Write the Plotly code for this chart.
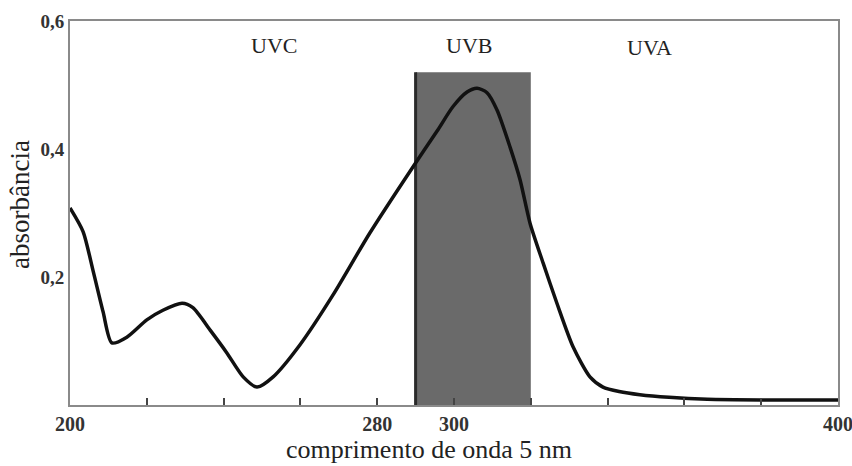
import plotly.graph_objects as go

# Data
wavelength = [200, 203.4, 206, 208.6, 210.9, 214.8, 220, 224.2, 229.2, 232, 236.5,
              240.9, 245.1, 248.7, 252.9, 260, 268.5, 278, 289.3, 295.6, 299.7, 303.4,
              306, 308.6, 311.2, 314.6, 317.2, 319.8, 323.2, 326.8, 331, 335.4,
              338.8, 343, 348.4, 356, 366, 380, 400]
absorbance = [0.308, 0.271, 0.21, 0.146, 0.097, 0.106, 0.133, 0.148, 0.159, 0.152, 0.117,
              0.081, 0.044, 0.028, 0.044, 0.095, 0.172, 0.268, 0.372, 0.428, 0.466, 0.489,
              0.495, 0.488, 0.461, 0.403, 0.352, 0.284, 0.222, 0.159, 0.091, 0.044,
              0.028, 0.021, 0.016, 0.012, 0.009, 0.008, 0.008]

uvb_band = [290, 320]
uvb_height = 0.52

region_labels = ["UVC", "UVB", "UVA"]
region_x = [253, 304, 351]
region_y = [0.5625, 0.5625, 0.558]

x_tick_vals = [200, 220, 240, 260, 280, 300, 320, 340, 360, 380, 400]
x_tick_text = ["200", "", "", "", "280", "300", "", "", "", "", "400"]
y_tick_vals = [0.2, 0.4, 0.6]
y_tick_text = ["0,2", "0,4", "0,6"]

serif = "Liberation Serif, Times New Roman, serif"

fig = go.Figure()

fig.add_trace(go.Scatter(
    x=wavelength, y=absorbance, mode="lines",
    line=dict(color="#111111", width=3.5, shape="spline", smoothing=0.7),
    hoverinfo="x+y", showlegend=False,
))

# UVB band
fig.add_shape(type="rect", xref="x", yref="y",
              x0=uvb_band[0], x1=uvb_band[1], y0=0, y1=uvb_height,
              fillcolor="#6a6a6a", line=dict(width=0), layer="below")
fig.add_shape(type="line", xref="x", yref="y",
              x0=uvb_band[0], x1=uvb_band[0], y0=0, y1=uvb_height,
              line=dict(color="#2a2a2a", width=3), layer="below")

for lab, xx, yy in zip(region_labels, region_x, region_y):
    fig.add_annotation(x=xx, y=yy, xref="x", yref="y", text=lab, showarrow=False,
                       font=dict(family=serif, size=22, color="#222222"))

fig.add_annotation(x=0.4674, y=-0.117, xref="paper", yref="paper",
                   text="comprimento de onda 5 nm", showarrow=False,
                   xanchor="center", yanchor="middle",
                   font=dict(family=serif, size=26, color="#222222"))
fig.add_annotation(x=-0.065, y=0.521, xref="paper", yref="paper",
                   text="absorbância", showarrow=False, textangle=-90,
                   xanchor="center", yanchor="middle",
                   font=dict(family=serif, size=27, color="#222222"))

fig.update_layout(
    width=852, height=466,
    margin=dict(l=70, r=14, t=21, b=61, autoexpand=False),
    paper_bgcolor="white", plot_bgcolor="white",
    xaxis=dict(range=[200, 400], tickvals=x_tick_vals, ticktext=x_tick_text,
               ticks="inside", ticklen=7, tickwidth=2, tickcolor="#444444",
               showline=True, linecolor="#8a8a8a", linewidth=2, mirror=True,
               showgrid=False, zeroline=False, ticklabeloverflow="allow", automargin=False,
               tickfont=dict(family=serif, size=20, color="#333333", weight="bold")),
    yaxis=dict(range=[0, 0.6], tickvals=y_tick_vals, ticktext=y_tick_text,
               ticks="", showline=True, linecolor="#8a8a8a", linewidth=2, mirror=True,
               showgrid=False, zeroline=False, automargin=False,
               tickfont=dict(family=serif, size=19, color="#333333", weight="bold")),
)

fig.write_html("out.html", config={"displayModeBar": False},
               post_script="document.body.style.margin='0';document.body.style.overflow='hidden';")
